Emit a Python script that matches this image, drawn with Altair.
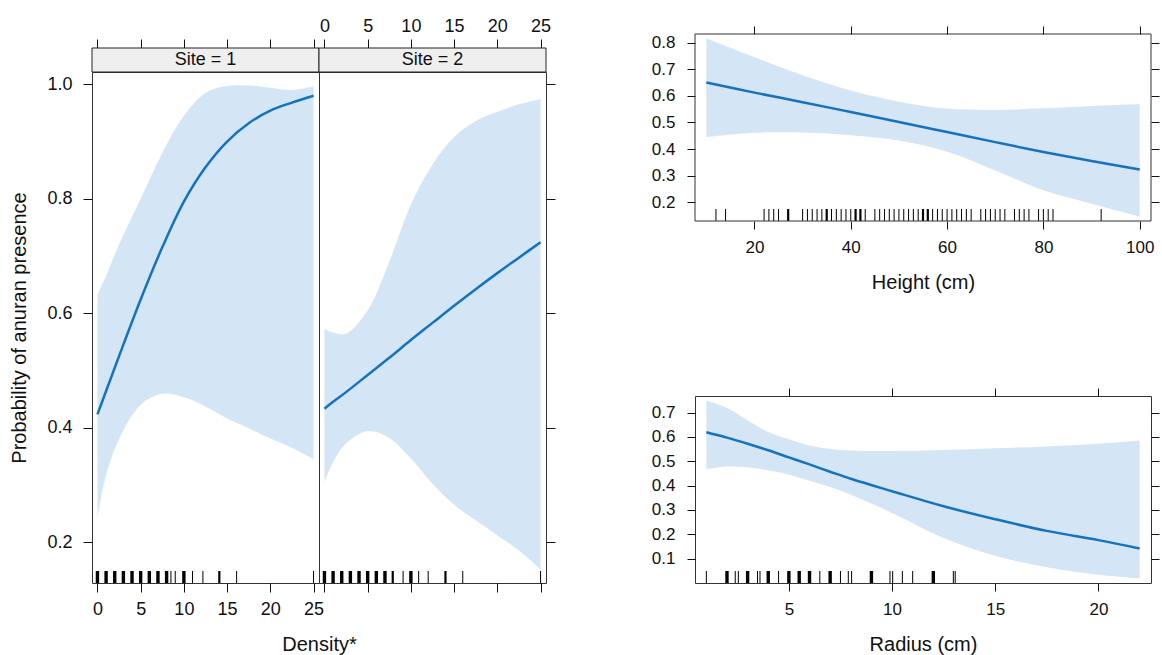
import altair as alt
import pandas as pd

FONT = "Liberation Sans"
BAND = "#d4e6f5"
LINE = "#1672bd"

# ---------------- data ----------------
site_labels = ["Site = 1", "Site = 2"]
density_title = "Density*"

dens_x = [0, 1, 2.5, 5, 7.5, 10, 12.5, 15, 17.5, 20, 22.5, 25]
site1_fit = [0.423, 0.464, 0.525, 0.624, 0.715, 0.795, 0.855, 0.90, 0.932, 0.954, 0.968, 0.98]
site1_lo = [0.243, 0.317, 0.38, 0.44, 0.459, 0.453, 0.437, 0.416, 0.399, 0.381, 0.365, 0.345]
site1_hi = [0.632, 0.665, 0.72, 0.80, 0.88, 0.945, 0.985, 0.997, 0.998, 0.994, 0.99, 0.996]

site2_fit = [0.433, 0.445, 0.462, 0.492, 0.522, 0.553, 0.583, 0.613, 0.642, 0.67, 0.697, 0.724]
site2_lo = [0.304, 0.34, 0.372, 0.394, 0.382, 0.346, 0.302, 0.265, 0.238, 0.212, 0.185, 0.152]
site2_hi = [0.572, 0.566, 0.564, 0.605, 0.69, 0.79, 0.86, 0.908, 0.936, 0.952, 0.965, 0.974]

site1_rug = [0, 1, 2, 3, 4, 5, 6, 7, 8, 8.5, 9, 10, 11, 12.2, 14.1, 16.1, 25]
site1_rug_n = [3, 3, 3, 3, 3, 3, 3, 3, 3, 1, 1, 3, 1, 1, 2, 1, 1]
site2_rug = [0, 1, 2, 3, 4, 5, 6, 7, 7.9, 9.1, 10, 10.9, 12, 14, 16, 25]
site2_rug_n = [3, 3, 3, 3, 3, 3, 3, 3, 2, 1, 3, 1, 1, 2, 1, 1]

height_x = [10, 20, 30, 40, 50, 60, 70, 80, 90, 100]
height_fit = [0.65, 0.612, 0.576, 0.539, 0.502, 0.464, 0.426, 0.389, 0.355, 0.323]
height_lo = [0.445, 0.461, 0.462, 0.452, 0.432, 0.39, 0.32, 0.245, 0.195, 0.147]
height_hi = [0.815, 0.745, 0.677, 0.62, 0.578, 0.552, 0.547, 0.553, 0.562, 0.568]
height_rug = [12, 14, 22, 23, 24, 25, 27, 30, 31, 32, 33, 34, 35, 36, 37, 38, 39, 40,
              41, 42, 43, 45, 46, 47, 48, 49, 50, 51, 52, 53, 54, 55, 56, 57, 58, 59,
              60, 61, 62, 63, 64, 65, 67, 68, 69, 70, 71, 72, 74, 75, 76, 77, 79, 80,
              81, 82, 92]
height_rug_n = [1, 1, 1, 1, 1, 1, 2, 1, 1, 1, 1, 1, 2, 1, 1, 1, 1, 1,
                2, 2, 1, 1, 1, 1, 1, 1, 1, 1, 1, 1, 1, 2, 2, 1, 1, 1,
                1, 1, 1, 1, 1, 1, 1, 1, 1, 1, 1, 1, 1, 1, 1, 1, 1, 1,
                1, 1, 1]

radius_x = [1, 2, 3, 4, 5, 6, 7, 8, 10, 12.5, 15, 17.5, 20, 22]
radius_fit = [0.619, 0.597, 0.572, 0.545, 0.516, 0.487, 0.457, 0.428, 0.377, 0.315, 0.262, 0.214, 0.176, 0.142]
radius_lo = [0.467, 0.478, 0.475, 0.463, 0.445, 0.42, 0.394, 0.362, 0.288, 0.185, 0.112, 0.065, 0.034, 0.019]
radius_hi = [0.75, 0.72, 0.668, 0.62, 0.59, 0.565, 0.55, 0.544, 0.542, 0.546, 0.553, 0.561, 0.572, 0.585]
radius_rug = [1, 2, 2.4, 2.55, 3, 3.48, 3.6, 4, 4.5, 5, 5.5, 6, 6.5, 7, 7.5, 7.88, 8.04,
              9, 9.9, 10.03, 10.5, 11, 12, 12.97, 13.06]
radius_rug_n = [1, 3, 1, 1, 3, 1, 1, 3, 1, 3, 3, 3, 1, 3, 1, 1, 1,
                3, 1, 1, 1, 1, 3, 1, 1]

density_ticks = [0, 5, 10, 15, 20, 25]
prob_ticks = [0.2, 0.4, 0.6, 0.8, 1.0]
height_ticks = [20, 40, 60, 80, 100]
height_yticks = [0.2, 0.3, 0.4, 0.5, 0.6, 0.7, 0.8]
radius_ticks = [5, 10, 15, 20]
radius_yticks = [0.1, 0.2, 0.3, 0.4, 0.5, 0.6, 0.7]


def curve_df(x, fit, lo, hi):
    return pd.DataFrame({"x": x, "fit": fit, "lo": lo, "hi": hi})


def rug_df(vals, n):
    return pd.DataFrame({"x": vals, "n": n})


RUG_SIZE = alt.Size("n:Q", scale=alt.Scale(domain=[1, 3], range=[1, 3.4]), legend=None)
INTERP = "catmull-rom"

# ---------------- left: Density by Site ----------------
PW, PH = 227, 511
STRIP = 24


def density_panel(i, cdf, rdf):
    first = i == 0
    xs = alt.Scale(domain=[-0.63, 25.63], nice=False, zero=False)
    ys = alt.Scale(domain=[0.1284, 1.0215], nice=False, zero=False)
    base = alt.Chart(cdf)
    if first:
        yaxis = alt.Axis(orient="left", values=prob_ticks, format=".1f", tickSize=9,
                         labelPadding=11, title="Probability of anuran presence",
                         titlePadding=17)
        xaxis = alt.Axis(orient="bottom", values=density_ticks, tickSize=9,
                         labelPadding=8, title=None)
    else:
        yaxis = alt.Axis(orient="right", values=prob_ticks, tickSize=9, labels=False,
                         title=None)
        xaxis = alt.Axis(orient="bottom", values=density_ticks, tickSize=9, labels=False,
                         title=density_title, titleX=0, titleY=67, titleAlign="center",
                         titleBaseline="alphabetic", titleFontSize=20)
    band = base.mark_area(color=BAND, opacity=1, clip=True, interpolate=INTERP).encode(
        x=alt.X("x:Q", scale=xs, axis=xaxis),
        y=alt.Y("lo:Q", scale=ys, axis=yaxis),
        y2="hi:Q",
    )
    line = base.mark_line(color=LINE, strokeWidth=2.5, interpolate=INTERP, clip=True).encode(
        x=alt.X("x:Q", scale=xs,
                axis=alt.Axis(orient="top", values=density_ticks, tickSize=9, offset=STRIP,
                              labels=not first, labelPadding=4, title=None)),
        y=alt.Y("fit:Q", scale=ys, axis=None),
    )
    rug = alt.Chart(rdf).mark_rule(color="black").encode(
        x=alt.X("x:Q", scale=xs, axis=None),
        y=alt.value(PH - 12), y2=alt.value(PH),
        size=RUG_SIZE,
    )
    sdf = pd.DataFrame({"label": [site_labels[i]]})
    strip_rect = alt.Chart(sdf).mark_rect(fill="#efefef", stroke="#222", strokeWidth=1).encode(
        x=alt.value(0), x2=alt.value(PW), y=alt.value(-STRIP), y2=alt.value(0))
    strip_text = alt.Chart(sdf).mark_text(font=FONT, fontSize=18, baseline="middle",
                                          color="#111").encode(
        x=alt.value(PW / 2), y=alt.value(-STRIP / 2), text="label:N")
    return alt.layer(band, line, rug, strip_rect, strip_text).resolve_axis(
        x="independent", y="independent").properties(width=PW, height=PH)


p1 = density_panel(0, curve_df(dens_x, site1_fit, site1_lo, site1_hi), rug_df(site1_rug, site1_rug_n))
p2 = density_panel(1, curve_df(dens_x, site2_fit, site2_lo, site2_hi), rug_df(site2_rug, site2_rug_n))

left = alt.hconcat(p1, p2, spacing=0, bounds="flush")

# ---------------- right: Height and Radius ----------------
RW, RH = 456, 187


def side_chart(cdf, rdf, xdom, ydom, xticks, yticks, title, lift):
    # `lift` raises the plot box above the view origin (the concat rows align on origins)
    vh = RH - lift
    xs = alt.Scale(domain=xdom, nice=False, zero=False)
    if lift:
        ys = alt.Scale(domain=ydom, nice=False, zero=False, range=[vh, -lift])
    else:
        ys = alt.Scale(domain=ydom, nice=False, zero=False)
    base = alt.Chart(cdf)
    band = base.mark_area(color=BAND, opacity=1, clip=not lift, interpolate=INTERP).encode(
        x=alt.X("x:Q", scale=xs,
                axis=alt.Axis(orient="bottom", values=xticks, tickSize=8, labelPadding=10,
                              labelFontSize=17, title=title, titlePadding=17)),
        y=alt.Y("lo:Q", scale=ys,
                axis=alt.Axis(orient="left", values=yticks, format=".1f", tickSize=8,
                              labelPadding=12, labelFontSize=17, title=None)),
        y2="hi:Q",
    )
    top_axis = alt.Axis(orient="top", values=xticks, tickSize=8, labels=False, title=None,
                        offset=lift)
    line = base.mark_line(color=LINE, strokeWidth=2.5, interpolate=INTERP, clip=not lift).encode(
        x=alt.X("x:Q", scale=xs, axis=top_axis),
        y=alt.Y("fit:Q", scale=ys,
                axis=alt.Axis(orient="right", values=yticks, tickSize=8, labels=False, title=None)),
    )
    rug = alt.Chart(rdf).mark_rule(color="black").encode(
        x=alt.X("x:Q", scale=xs, axis=None),
        y=alt.value(vh - 12), y2=alt.value(vh),
        size=RUG_SIZE,
    )
    layers = [band, line, rug]
    if lift:
        box = alt.Chart(pd.DataFrame({"k": [0]})).mark_rect(
            fill="transparent", stroke="#333", strokeWidth=1).encode(
            x=alt.value(0), x2=alt.value(RW), y=alt.value(-lift), y2=alt.value(vh))
        layers.append(box)
    ch = alt.layer(*layers).resolve_axis(x="independent", y="independent").properties(
        width=RW, height=vh)
    if lift:
        ch = ch.properties(view=alt.ViewBackground(stroke="transparent"))
    return ch


hchart = side_chart(curve_df(height_x, height_fit, height_lo, height_hi),
                    rug_df(height_rug, height_rug_n),
                    [7.65, 102.35], [0.13, 0.832], height_ticks, height_yticks, "Height (cm)", 38)
rchart = side_chart(curve_df(radius_x, radius_fit, radius_lo, radius_hi),
                    rug_df(radius_rug, radius_rug_n),
                    [0.45, 22.55], [0.0, 0.768], radius_ticks, radius_yticks, "Radius (cm)", 0)

right = alt.vconcat(hchart, rchart, spacing=94)

chart = alt.hconcat(left, right, spacing=94).properties(
    padding={"left": 9, "top": 16, "right": 0, "bottom": 0},
    background="white",
).configure_axis(
    labelFont=FONT, titleFont=FONT, labelFontSize=18, titleFontSize=20,
    titleFontWeight="normal", labelColor="#111", titleColor="#111",
    tickColor="#111", tickWidth=1, domain=False, grid=False,
).configure_view(stroke="#333", strokeWidth=1).configure_title(font=FONT)

chart.save("out.html", embed_options={"renderer": "svg", "actions": False})
